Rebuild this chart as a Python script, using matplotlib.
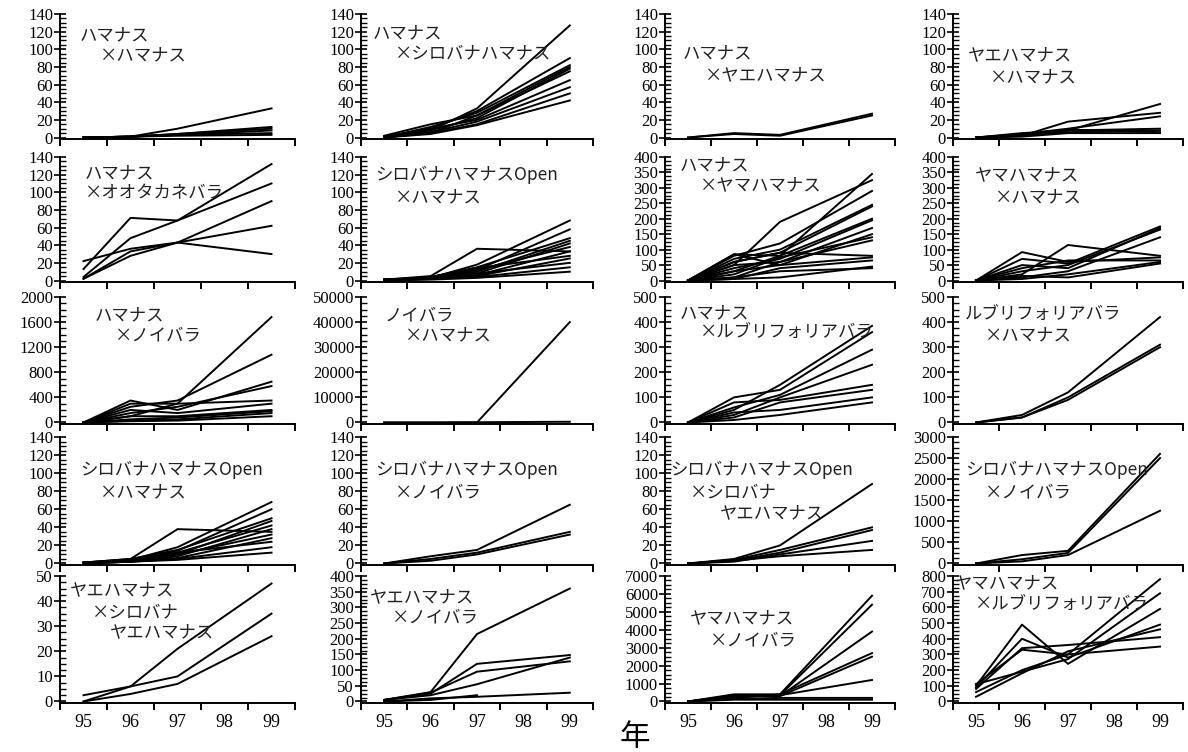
import numpy as np
import matplotlib
matplotlib.use("Agg")
import matplotlib.pyplot as plt
from matplotlib.ticker import MultipleLocator, AutoMinorLocator

plt.rcParams["font.family"] = "serif"
plt.rcParams["font.serif"] = ["Liberation Serif", "DejaVu Serif"]
JP = ["Noto Sans CJK JP", "DejaVu Sans"]

# data: values at 95, 96, 97, 99 (no 98 measurement)
YEARS = [95, 96, 97, 99]
NAN = np.nan

hama_x_hama = [[0, 1, 10, 33], [0, 1, 4, 12], [0, 1, 3, 8], [0, 1, 3, 5],
               [0, 1, 2, 3], [0, 1, 4, 10]]
hama_x_shirobana = [[1, 8, 33, 127], [1, 10, 30, 90], [0, 12, 28, 82], [2, 15, 25, 80],
                    [1, 8, 22, 78], [0, 5, 25, 75], [1, 10, 20, 65], [0, 6, 18, 57],
                    [1, 5, 15, 50], [0, 4, 14, 42]]
hama_x_yae = [[0, 5, 3, 27], [0, 4, 2, 25]]
yae_x_hama = [[0, 3, 8, 38], [0, 2, 18, 28], [0, 4, 10, 24], [0, 5, 8, 10],
              [0, 3, 6, 8], [0, 2, 9, 6], [0, 1, 5, 5]]
hama_x_ootakane = [[13, 71, 68, 110], [4, 48, 68, 132], [22, 36, 43, 30],
                   [2, 33, 43, 62], [2, 28, 43, 90]]
shiroopen_x_hama_a = [[1, 5, 36, 33], [1, 3, 18, 68], [0, 2, 12, 58], [1, 4, 15, 48],
                      [0, 3, 10, 45], [1, 2, 8, 42], [0, 3, 12, 38], [1, 2, 6, 33],
                      [0, 4, 14, 28], [1, 2, 5, 25], [0, 3, 8, 20], [1, 2, 4, 15],
                      [0, 1, 3, 10]]
hama_x_yama = [[0, 50, 190, 325], [0, 85, 80, 345], [0, 80, 120, 290], [0, 70, 100, 245],
               [0, 60, 90, 240], [0, 30, 80, 200], [0, 40, 70, 195], [0, 50, 60, 170],
               [0, 85, 50, 150], [0, 20, 75, 140], [0, 10, 60, 130], [0, 60, 90, 80],
               [0, 30, 50, 75], [0, 5, 40, 65], [0, 5, 10, 45], [0, 10, 30, 40]]
yama_x_hama = [[0, 92, 60, 75], [0, 20, 115, 80], [0, 70, 55, 175], [0, 50, 40, 170],
               [0, 30, 50, 165], [0, 10, 30, 140], [0, 40, 65, 65], [0, 15, 10, 55],
               [0, 5, 20, 60]]
hama_x_noi = [[0, 100, 300, 1680], [0, 250, 350, 1080], [0, 350, 200, 650],
              [0, 150, 250, 580], [0, 300, 300, 350], [0, 200, 150, 300],
              [0, 100, 100, 200], [0, 50, 80, 180], [0, 30, 50, 150], [0, 20, 30, 100]]
noi_x_hama = [[0, 0, 0, 40000], [0, 0, 100, 300]]
hama_x_rubri = [[0, 50, 150, 385], [0, 100, 130, 360], [0, 60, 110, 290],
                [0, 30, 100, 230], [0, 80, 90, 150], [0, 20, 80, 130],
                [0, 40, 50, 100], [0, 10, 30, 80]]
rubri_x_hama = [[0, 30, 120, 420], [0, 20, 100, 310], [0, 20, 90, 300]]
shiroopen_x_hama_b = [[1, 5, 38, 35], [1, 4, 18, 68], [0, 3, 14, 60], [1, 5, 15, 50],
                      [0, 3, 10, 47], [1, 4, 12, 42], [0, 2, 8, 38], [1, 3, 10, 32],
                      [0, 2, 6, 28], [1, 3, 12, 24], [0, 2, 5, 18], [1, 2, 4, 12]]
shiroopen_x_noi_a = [[0, 8, 15, 65], [0, 5, 12, 35], [0, 3, 10, 32]]
shiroopen_x_shiroyae = [[0, 5, 20, 88], [0, 4, 15, 40], [0, 3, 12, 37],
                        [0, 2, 10, 25], [0, 3, 8, 15]]
shiroopen_x_noi_b = [[0, 200, 300, 2600], [0, 100, 250, 2500], [0, 50, 200, 1250]]
yae_x_shiroyae = [[0, 6, 21, 47], [2.5, 6, 10, 35], [0, 3, 7, 26]]
yae_x_noi = [[5, 30, 215, 360], [5, 25, 120, 148], [5, 28, 95, 128],
             [5, 20, 55, 140], [0, 10, 15, 28], [0, 5, 20, NAN]]
yama_x_noi = [[0, 400, 400, 5900], [0, 300, 350, 5400], [0, 350, 300, 3900],
              [0, 200, 400, 2700], [0, 300, 300, 2500], [0, 250, 350, 1200],
              [0, 150, 200, 200], [0, 100, 100, 100]]
yama_x_rubri = [[100, 490, 240, 590], [90, 400, 280, 490], [80, 340, 360, 410],
                [110, 330, 300, 350], [60, 200, 300, 780], [110, 190, 270, 690],
                [30, 180, 320, 460]]

# (series, y max, major step, title lines)
panels = [
    (hama_x_hama, 140, 20, ["ハマナス", "×ハマナス"]),
    (hama_x_shirobana, 140, 20, ["ハマナス", "×シロバナハマナス"]),
    (hama_x_yae, 140, 20, ["ハマナス", "×ヤエハマナス"]),
    (yae_x_hama, 140, 20, ["ヤエハマナス", "×ハマナス"]),
    (hama_x_ootakane, 140, 20, ["ハマナス", "×オオタカネバラ"]),
    (shiroopen_x_hama_a, 140, 20, ["シロバナハマナスOpen", "×ハマナス"]),
    (hama_x_yama, 400, 50, ["ハマナス", "×ヤマハマナス"]),
    (yama_x_hama, 400, 50, ["ヤマハマナス", "×ハマナス"]),
    (hama_x_noi, 2000, 400, ["ハマナス", "×ノイバラ"]),
    (noi_x_hama, 50000, 10000, ["ノイバラ", "×ハマナス"]),
    (hama_x_rubri, 500, 100, ["ハマナス", "×ルブリフォリアバラ"]),
    (rubri_x_hama, 500, 100, ["ルブリフォリアバラ", "×ハマナス"]),
    (shiroopen_x_hama_b, 140, 20, ["シロバナハマナスOpen", "×ハマナス"]),
    (shiroopen_x_noi_a, 140, 20, ["シロバナハマナスOpen", "×ノイバラ"]),
    (shiroopen_x_shiroyae, 140, 20, ["シロバナハマナスOpen", "×シロバナ", "ヤエハマナス"]),
    (shiroopen_x_noi_b, 3000, 500, ["シロバナハマナスOpen", "×ノイバラ"]),
    (yae_x_shiroyae, 50, 10, ["ヤエハマナス", "×シロバナ", "ヤエハマナス"]),
    (yae_x_noi, 400, 50, ["ヤエハマナス", "×ノイバラ"]),
    (yama_x_noi, 7000, 1000, ["ヤマハマナス", "×ノイバラ"]),
    (yama_x_rubri, 800, 100, ["ヤマハマナス", "×ルブリフォリアバラ"]),
]

# layout in pixels
W, H = 1188, 752
col_left = [60, 361, 665, 953]
col_right = [295, 593, 895, 1183]
row_top = [14, 157, 297, 437, 576]
row_bottom = [139, 282, 424, 565, 703]

# title line positions (left x, centre y) in pixels
title_pos = [
    [(80, 35), (100, 55)],
    [(373, 33), (395, 53)],
    [(683, 53), (705, 75)],
    [(968, 55), (990, 77)],
    [(85, 173), (85, 193)],
    [(375, 175), (395, 197)],
    [(680, 165), (700, 185)],
    [(975, 175), (995, 197)],
    [(95, 315), (115, 335)],
    [(385, 315), (405, 335)],
    [(680, 313), (700, 333)],
    [(965, 315), (985, 335)],
    [(80, 470), (100, 492)],
    [(375, 470), (395, 492)],
    [(670, 470), (690, 492), (720, 513)],
    [(965, 470), (985, 492)],
    [(70, 590), (92, 612), (110, 632)],
    [(370, 597), (392, 617)],
    [(690, 618), (710, 640)],
    [(955, 583), (975, 605)],
]

fig = plt.figure(figsize=(W / 100, H / 100), dpi=100)

for i, (series, ymax, step, title) in enumerate(panels):
    r, c = divmod(i, 4)
    left = col_left[c] / W
    bottom = 1 - row_bottom[r] / H
    width = (col_right[c] - col_left[c]) / W
    height = (row_bottom[r] - row_top[r]) / H
    ax = fig.add_axes([left, bottom, width, height])

    for s in series:
        ax.plot(YEARS, s, color="black", lw=1.4)

    ax.set_xlim(94.5, 99.5)
    ax.set_ylim(-ymax * 0.012, ymax)
    ax.set_xticks([94.5, 95.5, 96.5, 97.5, 98.5, 99.5])
    ax.set_xticklabels([])
    ax.yaxis.set_major_locator(MultipleLocator(step))
    ax.yaxis.set_minor_locator(AutoMinorLocator(4))
    ax.spines["top"].set_visible(False)
    ax.spines["right"].set_visible(False)
    ax.spines["left"].set_linewidth(1.4)
    ax.spines["bottom"].set_linewidth(1.4)
    ax.tick_params(axis="x", direction="out", length=5, width=1.4)
    ax.tick_params(axis="y", which="major", direction="inout", length=8, width=1.2,
                   labelsize=12, pad=1)
    ax.tick_params(axis="y", which="minor", direction="in", length=4, width=1.0)

    if r == 4:
        for yr in [95, 96, 97, 98, 99]:
            ax.text(yr, -0.09, str(yr), transform=ax.get_xaxis_transform(),
                    ha="center", va="top", fontsize=13)

    for (px, py), line in zip(title_pos[i], title):
        fig.text(px / W, 1 - py / H, line, family=JP, fontsize=12.5,
                 ha="left", va="center", color="#222222")

fig.text(635 / W, 1 - 737 / H, "年", family=JP, fontsize=22, ha="center", va="center")

fig.savefig("out.png", dpi=100)
